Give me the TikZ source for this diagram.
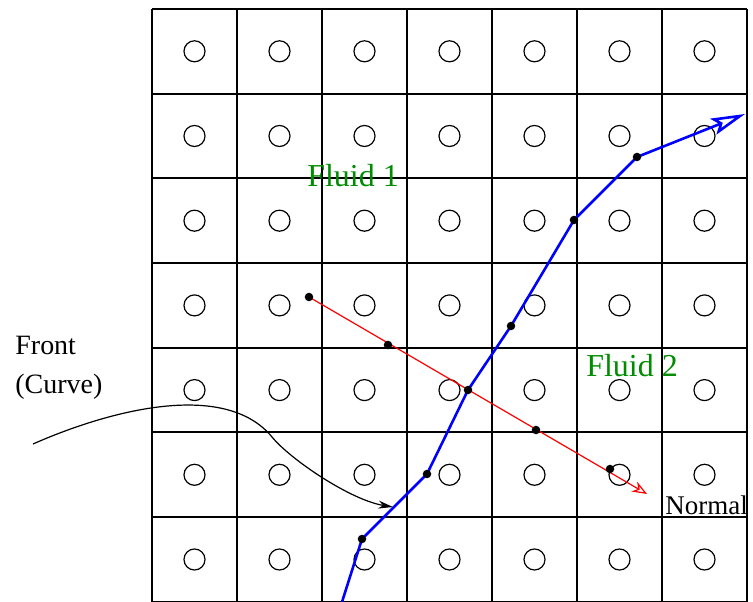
\documentclass[tikz,border=0pt]{standalone}
\usepackage{fontspec}
\setmainfont{Liberation Serif}
\usetikzlibrary{arrows.meta}
\definecolor{fluidgreen}{RGB}{0,140,0}

\begin{document}
\begin{tikzpicture}[
  x=0.0176cm, y=-0.0176cm,
  cellline/.style={line width=1pt},
  gridpt/.style={draw, circle, inner sep=0pt, minimum size=3.7mm, line width=0.6pt},
  dot/.style={circle, fill=black, inner sep=0pt, minimum size=1.5mm},
  front/.style={blue, line width=1.3pt, -{Stealth[open, length=6mm, width=3mm, inset=1.2mm]}},
  normal/.style={red, line width=0.6pt, -{Stealth[open, length=2.6mm, width=2mm]}},
  pointer/.style={line width=0.6pt, -{Stealth[length=2.6mm, width=1.4mm]}},
  lbl/.style={font=\fontsize{14}{17}\selectfont, inner xsep=0pt},
  fluid/.style={lbl, text=fluidgreen, font=\fontsize{16}{19}\selectfont}
]
\useasboundingbox (0,0) rectangle (753,602);

% cells and grid points
\foreach \i in {0,...,7} {
  \draw[cellline] (152+85*\i,9) -- (152+85*\i,602);
  \draw[cellline] (152,9+84.7*\i) -- (747,9+84.7*\i);
}
\foreach \c in {0,...,6}
  \foreach \r in {0,...,6}
    \node[gridpt] (g\c-\r) at (194.5+85*\c, 51.3+84.7*\r) {};

% front points
\coordinate (f0) at (342,602);
\coordinate (f1) at (362,539);
\coordinate (f2) at (427,474);
\coordinate (f3) at (468,390);
\coordinate (f4) at (511,326);
\coordinate (f5) at (574,220);
\coordinate (f6) at (637,157);
\coordinate (ftip) at (745,114);

% normal points
\coordinate (n1) at (309,297);
\coordinate (n2) at (388,345);
\coordinate (n4) at (536,430);
\coordinate (n5) at (610,469);
\coordinate (ntip) at (647,494);

\draw[normal] (n1) -- (ntip);
\draw[front] (f0) -- (f1) -- (f2) -- (f3) -- (f4) -- (f5) -- (f6) -- (ftip);
\foreach \p in {f1,f2,f3,f4,f5,f6,n1,n2,n4,n5}
  \node[dot] (d-\p) at (\p) {};

% labels
\node[lbl, anchor=west] (lfront) at (15,345) {Front};
\node[lbl, anchor=west] (lcurve) at (15,387) {(Curve)};
\node[fluid] (fl1) at (353,176) {Fluid 1};
\node[fluid] (fl2) at (632,366) {Fluid 2};
\node[lbl, anchor=west, font=\fontsize{13.5}{16}\selectfont] (lnormal) at (665,505) {Normal};

\coordinate (ptail) at (33,444);
\coordinate (phead) at (393,507);
\draw[pointer] (ptail) .. controls (110,410) and (225,380) .. (272,437)
  .. controls (290,459) and (350,500) .. (phead);
\end{tikzpicture}
\end{document}
